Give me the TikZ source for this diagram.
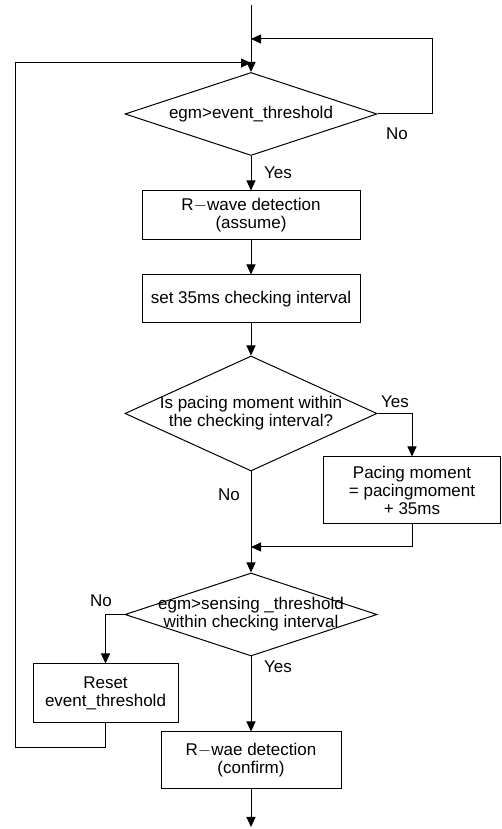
\documentclass[tikz,border=0pt]{standalone}
\usepackage{fontspec}
\setmainfont{Liberation Sans}
\usetikzlibrary{shapes.geometric,arrows.meta}

\begin{document}
\begin{tikzpicture}[x=10pt, y=10pt, line width=1pt, >={Triangle[length=10pt,width=9pt]},
    every node/.style={font=\fontsize{17}{18}\selectfont},
    box/.style={draw,rectangle,align=center,inner sep=0pt},
    decision/.style={draw,diamond,inner sep=0pt,minimum width=252pt},
    txt/.style={align=center}]
            \useasboundingbox (0,0) rectangle (50.2,82.9);

            \node[decision,minimum height=83pt,label={[txt]center:egm>event\_threshold}] (d1) at (25.1,71.5) {};
            \node[box,minimum width=218pt,minimum height=49pt] (b1) at (25.1,61.35) {R$-$wave detection\\(assume)};
            \node[box,minimum width=218pt,minimum height=48pt] (b2) at (25.1,53.0) {set 35ms checking interval};
            \node[decision,minimum height=115pt,label={[txt]center:Is pacing moment within\\the checking interval?}] (d2) at (25.1,41.55) {};
            \node[box,minimum width=177pt,minimum height=67pt] (b3) at (41.2,33.85) {Pacing moment\\= pacingmoment\\+ 35ms};
            \node[decision,minimum height=83pt,label={[txt]center:egm>sensing \_threshold\\within checking interval}] (d3) at (25.1,21.45) {};
            \node[box,minimum width=145pt,minimum height=59pt] (b4) at (10.55,13.55) {Reset\\event\_threshold};
            \node[box,minimum width=180pt,minimum height=57pt] (b5) at (25.1,6.85) {R$-$wae detection\\(confirm)};

            \coordinate (top) at (25.1,82.4);
            \coordinate (bot) at (25.1,0.2);
            \coordinate (in1) at (25.1,79.0);
            \coordinate (in2) at (25.1,76.6);
            \coordinate (loopr) at (43.2,79.0);
            \coordinate (loopl) at (1.5,8.1);
            \coordinate (join) at (25.1,28.2);

            \draw[->] (top) -- (d1.north);
            \draw[->] (d1.east) -| (loopr) -- (in1);
            \draw[->] (d1.south) -- (b1.north);
            \draw[->] (b1.south) -- (b2.north);
            \draw[->] (b2.south) -- (d2.north);
            \draw[->] (d2.east) -| (b3.north);
            \draw[->] (b3.south) |- (join);
            \draw[->] (d2.south) -- (d3.north);
            \draw[->] (d3.west) -| (b4.north);
            \draw[->] (b4.south) |- (loopl) |- (in2);
            \draw[->] (d3.south) -- (b5.north);
            \draw[->] (b5.south) -- (bot);

            \node at (39.7,69.5) {No};
            \node at (27.8,65.6) {Yes};
            \node at (39.5,42.7) {Yes};
            \node at (22.9,33.4) {No};
            \node at (10.1,22.8) {No};
            \node at (27.8,16.2) {Yes};
          \end{tikzpicture}
\end{document}
